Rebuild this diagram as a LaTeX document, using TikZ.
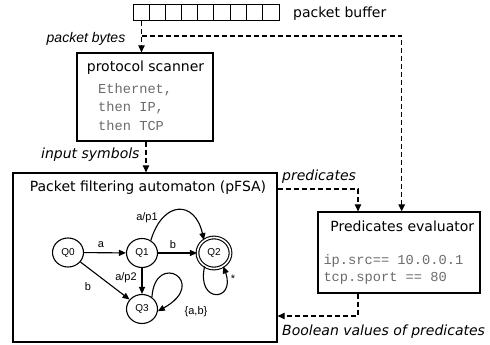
\documentclass[tikz,border=0pt]{standalone}
\usepackage{fontspec}
\setmainfont{DejaVu Sans}
\newfontfamily\arialfont{Liberation Sans}
\setmonofont{Liberation Mono}
\usetikzlibrary{arrows.meta,calc}
\definecolor{codegray}{gray}{0.42}
\tikzset{
  box/.style={draw=black, line width=1.3pt, rectangle, inner sep=0pt},
  dconn/.style={line width=1.1pt, dash pattern=on 5pt off 3pt, -{Triangle[length=7pt,width=6.5pt]}},
  dline/.style={line width=1.1pt, dash pattern=on 5pt off 3pt},
  state/.style={draw=black, line width=1.1pt, ellipse, minimum width=31pt, minimum height=29pt, inner sep=0pt, font=\arialfont\fontsize{10}{12}\selectfont},
  aconn/.style={line width=1.1pt, -{Triangle[length=7pt,width=6pt]}},
  elab/.style={font=\arialfont\fontsize{11}{12}\selectfont, inner sep=0pt},
  title/.style={font=\fontsize{14}{16}\selectfont, inner sep=0pt, anchor=base},
  code/.style={font=\ttfamily\fontsize{13.7}{16}\selectfont, text=codegray, inner sep=0pt, anchor=base west},
  ilab/.style={font=\itshape\fontsize{14}{16}\selectfont, inner sep=0pt, anchor=base west},
}
\usetikzlibrary{shapes.geometric}
\begin{document}
\begin{tikzpicture}[x=1pt,y=-1pt]
\useasboundingbox (0,0) rectangle (490,345);
% packet buffer
\node[box, line width=1pt, minimum width=146pt, minimum height=16.5pt] (buf) at (206.3,12.7) {};
\foreach \i in {1,...,8} {
  \draw[line width=1pt] ($(buf.north west)+(\i*16.22,0)$) -- ($(buf.south west)+(\i*16.22,0)$);
}
\node[font=\fontsize{14}{16}\selectfont, inner sep=0pt, anchor=base west] (buftext) at (293,17.5) {packet buffer};
% protocol scanner
\node[box, minimum width=136pt, minimum height=88pt] (scan) at (145,97) {};
\node[title] (scantitle) at (145.5,71.5) {protocol scanner};
\node[code] (scan1) at (98,93) {Ethernet,};
\node[code] (scan2) at (98,111.5) {then IP,};
\node[code] (scan3) at (98,130) {then TCP};
% automaton
\node[box, minimum width=264pt, minimum height=169pt] (fsa) at (145,257.5) {};
\node[title] (fsatitle) at (148,191) {Packet filtering automaton (pFSA)};
% evaluator
\node[box, minimum width=162pt, minimum height=81pt] (eval) at (399,252.5) {};
\node[title] (evaltitle) at (402.3,231.5) {Predicates evaluator};
\node[code] (eval1) at (323.3,264.5) {ip.src== 10.0.0.1};
\node[code] (eval2) at (323.3,281.5) {tcp.sport == 80};
% labels
\node[ilab, font=\arialfont\itshape\fontsize{14}{16}\selectfont] (lbytes) at (46.5,43) {packet bytes};
\node[ilab] (lsym) at (41,158) {input symbols};
\node[ilab] (lpred) at (282,180.5) {predicates};
\node[ilab] (lbool) at (282,335.5) {Boolean values of predicates};
% connector coordinates
\coordinate (bufout) at (141.5,20.9);
\coordinate (split) at (141.5,36);
\coordinate (predy) at (0,189);
\coordinate (booly) at (0,316);
\draw[dconn] (bufout) -- (bufout |- scan.north);
\draw[dconn] (split) -| ([xshift=2.7pt]eval.north);
\draw[dconn] ([xshift=1pt]scan.south) -- ([xshift=1pt]scan.south |- fsa.north);
\draw[dconn] (fsa.east |- predy) -| ([xshift=-41pt]eval.north);
\draw[dconn] ([xshift=-41pt]eval.south) |- (fsa.east |- booly);
% states
\node[state] (q0) at (68,252.5) {Q0};
\node[state] (q1) at (142,253) {Q1};
\node[state, double=white, double distance=1.6pt, minimum width=33pt, minimum height=31pt] (q2) at (214,253) {Q2};
\node[state] (q3) at (142,309) {Q3};
% transitions
\draw[aconn] (q0) -- (q1);
\node[elab] (la) at (101,245) {a};
\draw[aconn] (q1) -- (q2);
\node[elab] (lb) at (173,245) {b};
\draw[aconn] (q1) -- (q3);
\node[elab] (lap2) at (126,278) {a/p2};
\draw[aconn] (q0) -- (q3);
\node[elab] (lb2) at (88,287) {b};
\draw[aconn] (q1.55) .. controls (163,200) and (195,200) .. (q2.128);
\node[elab] (lap1) at (147,218) {a/p1};
\draw[aconn] (q2.235) .. controls (196,304) and (236,302) .. (q2.305);
\node[elab] (lstar) at (233,279) {*};
\draw[aconn] (q3.50) .. controls (155,250) and (210,282) .. (q3.-8);
\node[elab] (lab) at (196,312) {\{a,b\}};
\end{tikzpicture}
\end{document}
